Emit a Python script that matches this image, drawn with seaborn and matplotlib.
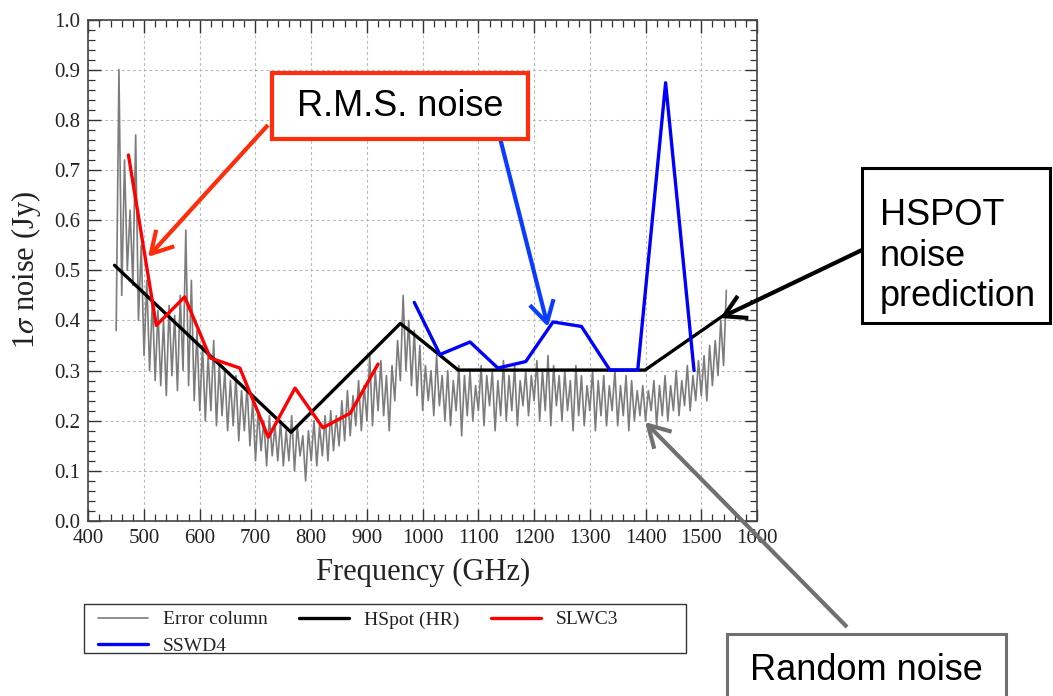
import numpy as np
import pandas as pd
import matplotlib
matplotlib.use('Agg')
import matplotlib.pyplot as plt
import seaborn as sns
from matplotlib.patches import Rectangle, FancyArrowPatch
from matplotlib.ticker import MultipleLocator, FormatStrFormatter

# ---------------- data ----------------
err_freq = np.arange(450, 1550, 5)
err_val = [
    0.38, 0.90, 0.45, 0.72, 0.50, 0.62, 0.47, 0.77, 0.40, 0.55,
    0.33, 0.48, 0.30, 0.44, 0.28, 0.42, 0.27, 0.40, 0.25, 0.43,
    0.29, 0.41, 0.26, 0.45, 0.30, 0.58, 0.27, 0.48, 0.24, 0.38,
    0.22, 0.35, 0.20, 0.33, 0.22, 0.36, 0.19, 0.31, 0.21, 0.30,
    0.18, 0.28, 0.19, 0.29, 0.16, 0.26, 0.18, 0.27, 0.15, 0.24,
    0.12, 0.22, 0.14, 0.20, 0.11, 0.21, 0.13, 0.19, 0.12, 0.20,
    0.11, 0.18, 0.12, 0.21, 0.10, 0.19, 0.13, 0.17, 0.08, 0.18,
    0.12, 0.20, 0.11, 0.19, 0.13, 0.21, 0.12, 0.22, 0.14, 0.21,
    0.15, 0.24, 0.16, 0.26, 0.17, 0.25, 0.19, 0.28, 0.18, 0.27,
    0.20, 0.33, 0.19, 0.30, 0.22, 0.32, 0.21, 0.29, 0.18, 0.31,
    0.24, 0.36, 0.28, 0.45, 0.30, 0.40, 0.27, 0.38, 0.25, 0.35,
    0.22, 0.31, 0.24, 0.30, 0.21, 0.33, 0.23, 0.29, 0.20, 0.30,
    0.19, 0.28, 0.22, 0.31, 0.17, 0.29, 0.21, 0.30, 0.20, 0.27,
    0.22, 0.31, 0.19, 0.29, 0.23, 0.30, 0.18, 0.28, 0.21, 0.32,
    0.20, 0.29, 0.22, 0.31, 0.19, 0.28, 0.23, 0.30, 0.21, 0.29,
    0.24, 0.32, 0.20, 0.30, 0.22, 0.33, 0.19, 0.31, 0.23, 0.29,
    0.20, 0.30, 0.22, 0.28, 0.18, 0.31, 0.21, 0.29, 0.19, 0.27,
    0.22, 0.30, 0.18, 0.28, 0.21, 0.29, 0.19, 0.27, 0.22, 0.30,
    0.19, 0.27, 0.21, 0.29, 0.18, 0.28, 0.20, 0.26, 0.21, 0.27,
    0.20, 0.26, 0.22, 0.28, 0.19, 0.27, 0.21, 0.29, 0.20, 0.27,
    0.22, 0.30, 0.21, 0.28, 0.23, 0.31, 0.22, 0.29, 0.24, 0.32,
    0.25, 0.33, 0.24, 0.35, 0.27, 0.36, 0.29, 0.40, 0.31, 0.46,
]

hspot_freq = [447, 764, 960, 1064, 1399, 1540]
hspot_val = [0.51, 0.177, 0.394, 0.301, 0.301, 0.41]

slw_freq = [472, 522, 573, 619, 672, 723, 771, 821, 870, 920]
slw_val = [0.73, 0.39, 0.447, 0.325, 0.305, 0.167, 0.265, 0.186, 0.215, 0.313]

ssw_freq = [985, 1031, 1085, 1135, 1185, 1234, 1285, 1336, 1386, 1436, 1487]
ssw_val = [0.436, 0.332, 0.357, 0.305, 0.318, 0.397, 0.388, 0.301, 0.301, 0.874, 0.30]

series_labels = ["Error column", "HSpot (HR)", "SLWC3", "SSWD4"]
x_label = "Frequency (GHz)"
y_label = r"1$\sigma$ noise (Jy)"

# ---------------- style ----------------
sns.set_style("ticks")
plt.rcParams['font.family'] = ['Liberation Serif', 'DejaVu Serif']
plt.rcParams['mathtext.fontset'] = 'stix'

W, H = 1053, 696
fig = plt.figure(figsize=(W / 100, H / 100), dpi=100)
ax = fig.add_axes([88.3 / W, 1 - 521 / H, (757 - 88.3) / W, (521 - 19.6) / H])

def fx(x):
    return x / W

def fy(y):
    return 1 - y / H

sns.lineplot(x=err_freq, y=err_val, ax=ax, color='#7c7c7c', lw=1.2,
             label=series_labels[0], sort=False, estimator=None, zorder=2)
sns.lineplot(x=hspot_freq, y=hspot_val, ax=ax, color='black', lw=2.4,
             label=series_labels[1], sort=False, estimator=None, zorder=3)
sns.lineplot(x=slw_freq, y=slw_val, ax=ax, color='#ff0000', lw=2.4,
             label=series_labels[2], sort=False, estimator=None, zorder=4)
sns.lineplot(x=ssw_freq, y=ssw_val, ax=ax, color='#0000ff', lw=2.4,
             label=series_labels[3], sort=False, estimator=None, zorder=4)

ax.set_xlim(400, 1600)
ax.set_ylim(0, 1.0)
ax.xaxis.set_major_locator(MultipleLocator(100))
ax.xaxis.set_minor_locator(MultipleLocator(20))
ax.yaxis.set_major_locator(MultipleLocator(0.1))
ax.yaxis.set_minor_locator(MultipleLocator(0.02))
ax.yaxis.set_major_formatter(FormatStrFormatter('%.1f'))

ax.tick_params(which='both', direction='in', top=True, right=True, colors='#333333',
               labelcolor='#222222')
ax.tick_params(which='major', length=9, width=1.0, labelsize=15, pad=6)
ax.tick_params(which='minor', length=5, width=0.9)
for s in ax.spines.values():
    s.set_color('#444444')
    s.set_linewidth(1.2)

ax.grid(True, which='major', color='#b8b8b8', lw=0.8, linestyle=(0, (2.5, 2.5)))
ax.set_axisbelow(True)

ax.set_xlabel(x_label, fontsize=22, color='#222222', labelpad=7)
ax.set_ylabel(y_label, fontsize=22, color='#222222', labelpad=8)

# legend
handles, labels = ax.get_legend_handles_labels()
ax.get_legend().remove()
order = [0, 3, 1, 2]
fig.add_artist(Rectangle((fx(84), fy(653)), fx(686) - fx(84), fy(604) - fy(653),
                         transform=fig.transFigure, facecolor='white',
                         edgecolor='#333333', lw=1.0, zorder=5))
leg = fig.legend([handles[i] for i in order], [labels[i] for i in order],
                 ncol=3, loc='upper left',
                 bbox_to_anchor=(fx(94), fy(607)),
                 bbox_transform=fig.transFigure, borderaxespad=0,
                 frameon=False, fontsize=14, handlelength=2.6, handletextpad=0.75,
                 columnspacing=1.6, labelspacing=0.45, borderpad=0.2)
leg.set_zorder(6)
for t in leg.get_texts():
    t.set_color('#222222')

# ---------------- annotations ----------------
def box(x0, y0, x1, y1, color, lw):
    r = Rectangle((fx(x0), fy(y1)), fx(x1) - fx(x0), fy(y0) - fy(y1),
                  transform=fig.transFigure, facecolor='white', edgecolor=color,
                  lw=lw, zorder=10)
    fig.add_artist(r)

def arrow(x0, y0, x1, y1, color, lw):
    a = FancyArrowPatch((fx(x0), fy(y0)), (fx(x1), fy(y1)), transform=fig.transFigure,
                        arrowstyle='->,head_length=0.7,head_width=0.4',
                        mutation_scale=22, color=color, lw=lw, zorder=9,
                        shrinkA=0, shrinkB=0, capstyle='butt')
    fig.add_artist(a)

sans = ['Liberation Sans', 'DejaVu Sans']

# R.M.S. noise
arrow(268, 125, 148, 257, '#ff2d0a', 3.0)
arrow(500, 138, 548, 327, '#0a3cff', 3.0)
box(272, 73, 528, 139, '#ff2d0a', 3.0)
fig.text(fx(400), fy(106), "R.M.S. noise", ha='center', va='center',
         fontsize=26, family=sans, color='black', zorder=11)

# HSPOT noise prediction
arrow(862, 250, 720, 318, 'black', 3.0)
box(862, 168, 1050, 323, 'black', 2.2)
for txt, yb in zip(["HSPOT", "noise", "prediction"], [225, 266, 306]):
    fig.text(fx(880), fy(yb), txt, ha='left', va='baseline', fontsize=26,
             family=sans, color='black', zorder=11)

# Random noise
arrow(847, 627, 645, 422, '#707070', 3.0)
box(727, 634, 1006, 720, '#707070', 2.2)
fig.text(fx(866), fy(680), "Random noise", ha='center', va='baseline',
         fontsize=26, family=sans, color='black', zorder=11)

fig.savefig('out.png', dpi=100)
